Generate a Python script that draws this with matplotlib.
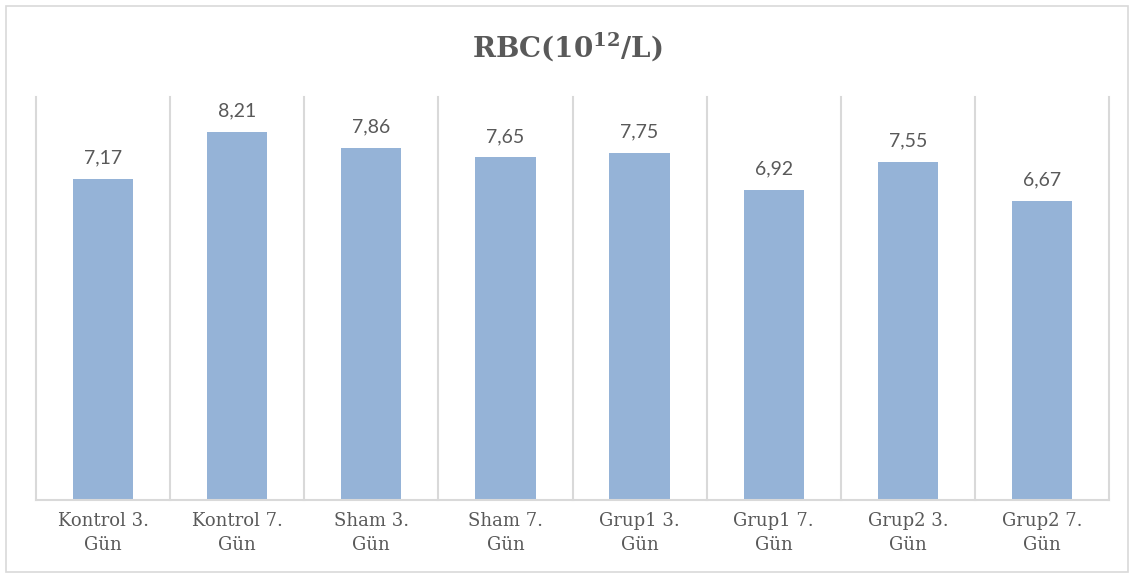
import matplotlib
matplotlib.use('Agg')
import matplotlib.pyplot as plt
from matplotlib.patches import Rectangle
import numpy as np

# data
categories = ["Kontrol 3.\nGün", "Kontrol 7.\nGün", "Sham 3.\nGün", "Sham 7.\nGün",
              "Grup1 3.\nGün", "Grup1 7.\nGün", "Grup2 3.\nGün", "Grup2 7.\nGün"]
values = [7.17, 8.21, 7.86, 7.65, 7.75, 6.92, 7.55, 6.67]

# style
bar_color  = "#95B3D7"
grid_color = "#D9D9D9"
text_color = "#595959"
plt.rcParams['font.family'] = ['DejaVu Serif']
plt.rcParams['mathtext.fontset'] = 'dejavuserif'

fig = plt.figure(figsize=(11.34, 5.77), dpi=100)
ax = fig.add_axes([36/1134, 77/577, (1109-36)/1134, (500-97)/577])

x = np.arange(len(values))
ax.bar(x, values, width=0.45, color=bar_color, zorder=2)
ax.set_xlim(-0.5, len(values)-0.5)
ax.set_ylim(0, 9)

# vertical gridlines between categories
for b in np.arange(-0.5, len(values), 1.0):
  ax.axvline(b, color=grid_color, lw=1.5, zorder=1, clip_on=False)

for xi, v in zip(x, values):
  ax.annotate(f"{v:.2f}".replace('.', ','), (xi, v), xytext=(0, 9), textcoords='offset points',
              ha='center', va='bottom', fontsize=14, color=text_color, family=['Lato', 'DejaVu Sans'])

ax.set_xticks(x)
ax.set_xticklabels(categories, fontsize=13, color=text_color, linespacing=1.4)
ax.tick_params(axis='x', length=0, pad=9)
ax.set_yticks([])
for s in ['top', 'right', 'left']:
  ax.spines[s].set_visible(False)
ax.spines['bottom'].set_color(grid_color)
ax.spines['bottom'].set_linewidth(1.5)

fig.text(0.5, 1-47/577, r"RBC(10$^{\mathbf{12}}$/L)", ha='center', va='center',
         fontsize=20, fontweight='bold', color=text_color)

# chart border
fig.patches.append(Rectangle((6/1134, 5/577), 1122/1134, 566/577, transform=fig.transFigure,
                             fill=False, edgecolor=grid_color, lw=1.2))

fig.savefig("out.png", dpi=100)
